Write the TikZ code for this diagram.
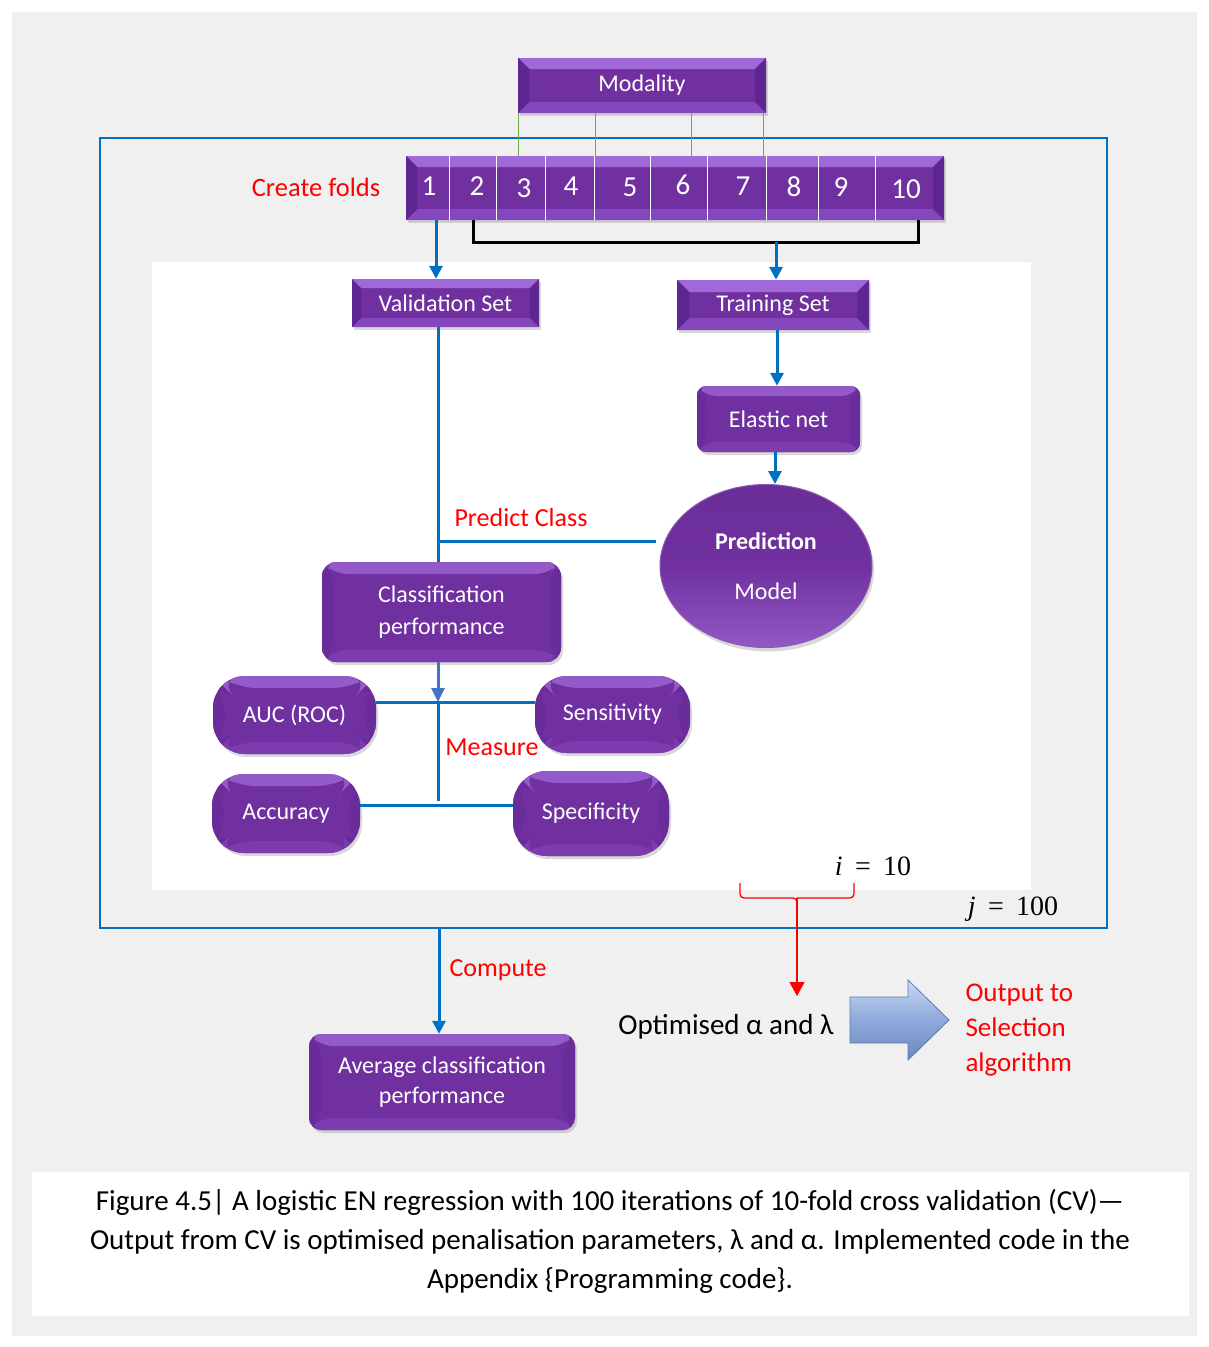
\documentclass[tikz,border=0pt]{standalone}
\usepackage{fontspec}
\setmainfont{Carlito}
\newfontfamily\mathlike{Liberation Serif}
\usetikzlibrary{shapes.geometric,shadows,arrows.meta,calc}
\definecolor{pmid}{HTML}{7030A0}
\definecolor{ptop}{HTML}{A068D8}
\definecolor{pbot}{HTML}{8646BE}
\definecolor{pside}{HTML}{5E2690}
\definecolor{cblue}{HTML}{0070C0}
\definecolor{lblue}{HTML}{4472C4}
\definecolor{bgray}{HTML}{F0F0F0}
\definecolor{fgreen}{HTML}{70AD47}
\definecolor{cred}{HTML}{FF0000}
\definecolor{atop}{HTML}{C9D8F2}
\definecolor{amid}{HTML}{8EA9DB}
\definecolor{abot}{HTML}{6C87B8}
\definecolor{aedge}{HTML}{5B79AD}
\tikzset{
  bevel/.style={fill=pmid, path picture={
    \path (path picture bounding box.north west) coordinate (bnw)
          (path picture bounding box.north east) coordinate (bne)
          (path picture bounding box.south west) coordinate (bsw)
          (path picture bounding box.south east) coordinate (bse);
    \fill[ptop] (bnw) -- (bne) -- ([xshift=-#1pt,yshift=-#1pt]bne) -- ([xshift=#1pt,yshift=-#1pt]bnw) -- cycle;
    \fill[pbot] (bsw) -- (bse) -- ([xshift=-#1pt,yshift=#1pt]bse) -- ([xshift=#1pt,yshift=#1pt]bsw) -- cycle;
    \fill[pside] (bnw) -- ([xshift=#1pt,yshift=-#1pt]bnw) -- ([xshift=#1pt,yshift=#1pt]bsw) -- (bsw) -- cycle;
    \fill[pside] (bne) -- ([xshift=-#1pt,yshift=-#1pt]bne) -- ([xshift=-#1pt,yshift=#1pt]bse) -- (bse) -- cycle;
  }},
  bevel/.default=9,
  rbevel/.style={fill=pmid, path picture={
    \path (path picture bounding box.north west) coordinate (bnw)
          (path picture bounding box.north east) coordinate (bne)
          (path picture bounding box.south west) coordinate (bsw)
          (path picture bounding box.south east) coordinate (bse);
    \fill[ptop!75!pmid] (bnw) -- (bne) -- ([xshift=-#1pt,yshift=-#1pt]bne) -- ([xshift=#1pt,yshift=-#1pt]bnw) -- cycle;
    \fill[pbot!55!pmid] (bsw) -- (bse) -- ([xshift=-#1pt,yshift=#1pt]bse) -- ([xshift=#1pt,yshift=#1pt]bsw) -- cycle;
    \fill[pside!40!pmid] (bnw) -- ([xshift=#1pt,yshift=-#1pt]bnw) -- ([xshift=#1pt,yshift=#1pt]bsw) -- (bsw) -- cycle;
    \fill[pside!40!pmid] (bne) -- ([xshift=-#1pt,yshift=-#1pt]bne) -- ([xshift=-#1pt,yshift=#1pt]bse) -- (bse) -- cycle;
  }},
  rbevel/.default=9,
  pbox/.style={rectangle, inner sep=0pt, text=white, align=center,
    font=\fontsize{24}{32}\selectfont,
    drop shadow={opacity=0.3, shadow xshift=2pt, shadow yshift=-3pt}},
  bline/.style={draw=cblue, line width=3pt},
  barrow/.style={draw=cblue, line width=3pt, -{Triangle[width=13pt,length=13pt]}},
  redlab/.style={text=cred, font=\fontsize{26}{30}\selectfont},
  num/.style={text=white, font=\fontsize{29}{32}\selectfont, inner sep=0pt},
  mathlab/.style={font=\mathlike\fontsize{28}{32}\selectfont},
}
\begin{document}
\begin{tikzpicture}[x=1pt,y=-1pt]
\useasboundingbox (0,0) rectangle (1208,1347);
\fill[white] (0,0) rectangle (1208,1347);
\fill[bgray] (12,12) rectangle (1197,1336);
\fill[white] (32,1172) rectangle (1189,1316);
\node[draw=cblue, line width=2pt, minimum width=1007pt, minimum height=790pt, inner sep=0pt] (frame) at (603.5,533) {};
\fill[white] (152,262) rectangle (1031,890);

% top boxes
\node[pbox, bevel=11, minimum width=248pt, minimum height=55pt] (modality) at (642,85.5) {Modality};
\node[pbox, bevel=11, minimum width=538pt, minimum height=64pt] (folds) at (675,188) {};
\foreach \x in {449,496,545,594,650,707,766,818,875}{
  \coordinate (d) at (\x,0);
  \draw[white, line width=1pt] (d |- folds.north) -- (d |- folds.south);
}
\node[num] (f1) at (429,186) {1};
\node[num] (f2) at (477,186) {2};
\node[num] (f3) at (524,188) {3};
\node[num] (f4) at (571,186) {4};
\node[num] (f5) at (630,187) {5};
\node[num] (f6) at (683,185) {6};
\node[num] (f7) at (743,186) {7};
\node[num] (f8) at (794,187) {8};
\node[num] (f9) at (841,187) {9};
\node[num] (f10) at (906,189) {10};
\foreach \x in {518,595,691,763}{
  \coordinate (g) at (\x,0);
  \draw[fgreen, line width=0.9pt] (g |- modality.south) -- (g |- folds.north);
}
\node[redlab, font=\fontsize{26.5}{30}\selectfont] (create) at (316,187) {Create folds};

% sets
\node[pbox, bevel=9, minimum width=187pt, minimum height=48pt] (valset) at (445.5,303) {Validation Set};
\node[pbox, bevel=12, minimum width=192pt, minimum height=50pt] (trainset) at (773,305) {Training Set};
\node[pbox, rbevel=10, rounded corners=9pt, minimum width=163pt, minimum height=66pt] (elastic) at (778.5,419) {Elastic net};
\node[ellipse, inner sep=0pt, minimum width=212pt, minimum height=163pt, text=white, align=center,
  top color=pmid!95!black, bottom color=pbot!90!white, middle color=pmid, draw=pmid!80!white, line width=1pt,
  drop shadow={opacity=0.3, shadow xshift=2pt, shadow yshift=-4pt},
  font=\fontsize{24}{28}\selectfont] (predmodel) at (766,566) {\textbf{Prediction}\\[22pt]Model};
\node[pbox, rbevel=12, rounded corners=14pt, minimum width=239pt, minimum height=100pt] (classperf) at (441.5,612) {Classification\\performance};
\node[pbox, rbevel=12, rounded corners=32pt, minimum width=163pt, minimum height=78pt] (auc) at (294.5,715) {AUC (ROC)};
\node[pbox, rbevel=12, rounded corners=32pt, minimum width=155pt, minimum height=77pt] (sens) at (612.5,714.5) {Sensitivity};
\node[pbox, rbevel=12, rounded corners=32pt, minimum width=148pt, minimum height=79pt] (acc) at (286,813.5) {Accuracy};
\node[pbox, rbevel=12, rounded corners=34pt, minimum width=156pt, minimum height=85pt] (spec) at (591,813.5) {Specificity};
\node[pbox, rbevel=12, rounded corners=12pt, minimum width=266pt, minimum height=96pt, font=\fontsize{24}{30}\selectfont] (avg) at (442,1082) {Average classification\\performance};

% connectors
\coordinate (a1) at (436,0);
\draw[barrow] (folds.south -| a1) -- (valset.north -| a1);
\coordinate (brL) at (473,242);
\coordinate (brR) at (918,242);
\coordinate (brM) at (776,242);
\draw[black, line width=3pt] (brL |- folds.south) -- (brL) -- (brR) -- (brR |- folds.south);
\draw[barrow] (brM) -- (trainset.north -| brM);
\coordinate (tx) at (777,0);
\draw[barrow] (trainset.south -| tx) -- (elastic.north -| tx);
\coordinate (ex) at (775,0);
\draw[barrow] (elastic.south -| ex) -- (predmodel.north -| ex);
\coordinate (vx) at (438,0);
\draw[bline] (valset.south -| vx) -- (classperf.north -| vx);
\coordinate (pc) at (438,541);
\coordinate (pe) at (656,541);
\draw[bline] (pc) -- (pe);
\node[redlab, anchor=south] (predict) at (521,530) {Predict Class};
\coordinate (mj) at (438,702);
\draw[draw=lblue, line width=3pt, -{Triangle[width=13pt,length=14pt]}] (classperf.south -| vx) -- (mj);
\draw[bline] (auc.east |- mj) -- (sens.west |- mj);
\coordinate (mb) at (438,801);
\draw[bline] (mj) -- (mb);
\coordinate (h2) at (0,805);
\draw[bline] (acc.east |- h2) -- (spec.west |- h2);
\node[redlab] (measure) at (492,747) {Measure};

% loop labels
\node[mathlab] (iten) at (873,866) {\textit{i}\;\,=\;\,10};
\node[mathlab] (jhun) at (1013,909) {\textit{j}\;\,=\;\,100};
\coordinate (brc) at (797,898);
\draw[cred, line width=1.3pt, rounded corners=4pt] (740,883) -- (740,898) -- (797,898) -- (797,910);
\draw[cred, line width=1.3pt, rounded corners=4pt] (854,883) -- (854,898) -- (797,898);
\coordinate (optT) at (797,996);
\draw[cred, line width=1.3pt, -{Triangle[width=15pt,length=14pt]}] (brc) -- (optT);

% compute
\coordinate (cx) at (439,0);
\draw[barrow] (frame.south -| cx) -- (avg.north -| cx);
\node[redlab, anchor=west] (compute) at (446,970) {Compute};

% output
\node[font=\fontsize{29}{33}\selectfont] (opt) at (726,1027) {Optimised α and λ};
\shade[top color=atop, bottom color=abot, middle color=amid, draw=aedge, line width=0.8pt]
  (850,997) -- (908,997) -- (908,980) -- (949,1020) -- (908,1060) -- (908,1043) -- (850,1043) -- cycle;
\node[text=cred, font=\fontsize{27}{35}\selectfont, align=left, anchor=west] (outsel) at (962,1030) {Output to\\Selection\\algorithm};

% caption
\node[font=\fontsize{29}{39}\selectfont, align=center] (caption) at (610,1241) {Figure 4.5| A logistic EN regression with 100 iterations of 10-fold cross validation (CV)—\\Output from CV is optimised penalisation parameters, λ and α. Implemented code in the\\Appendix \{Programming code\}.};
\end{tikzpicture}
\end{document}
